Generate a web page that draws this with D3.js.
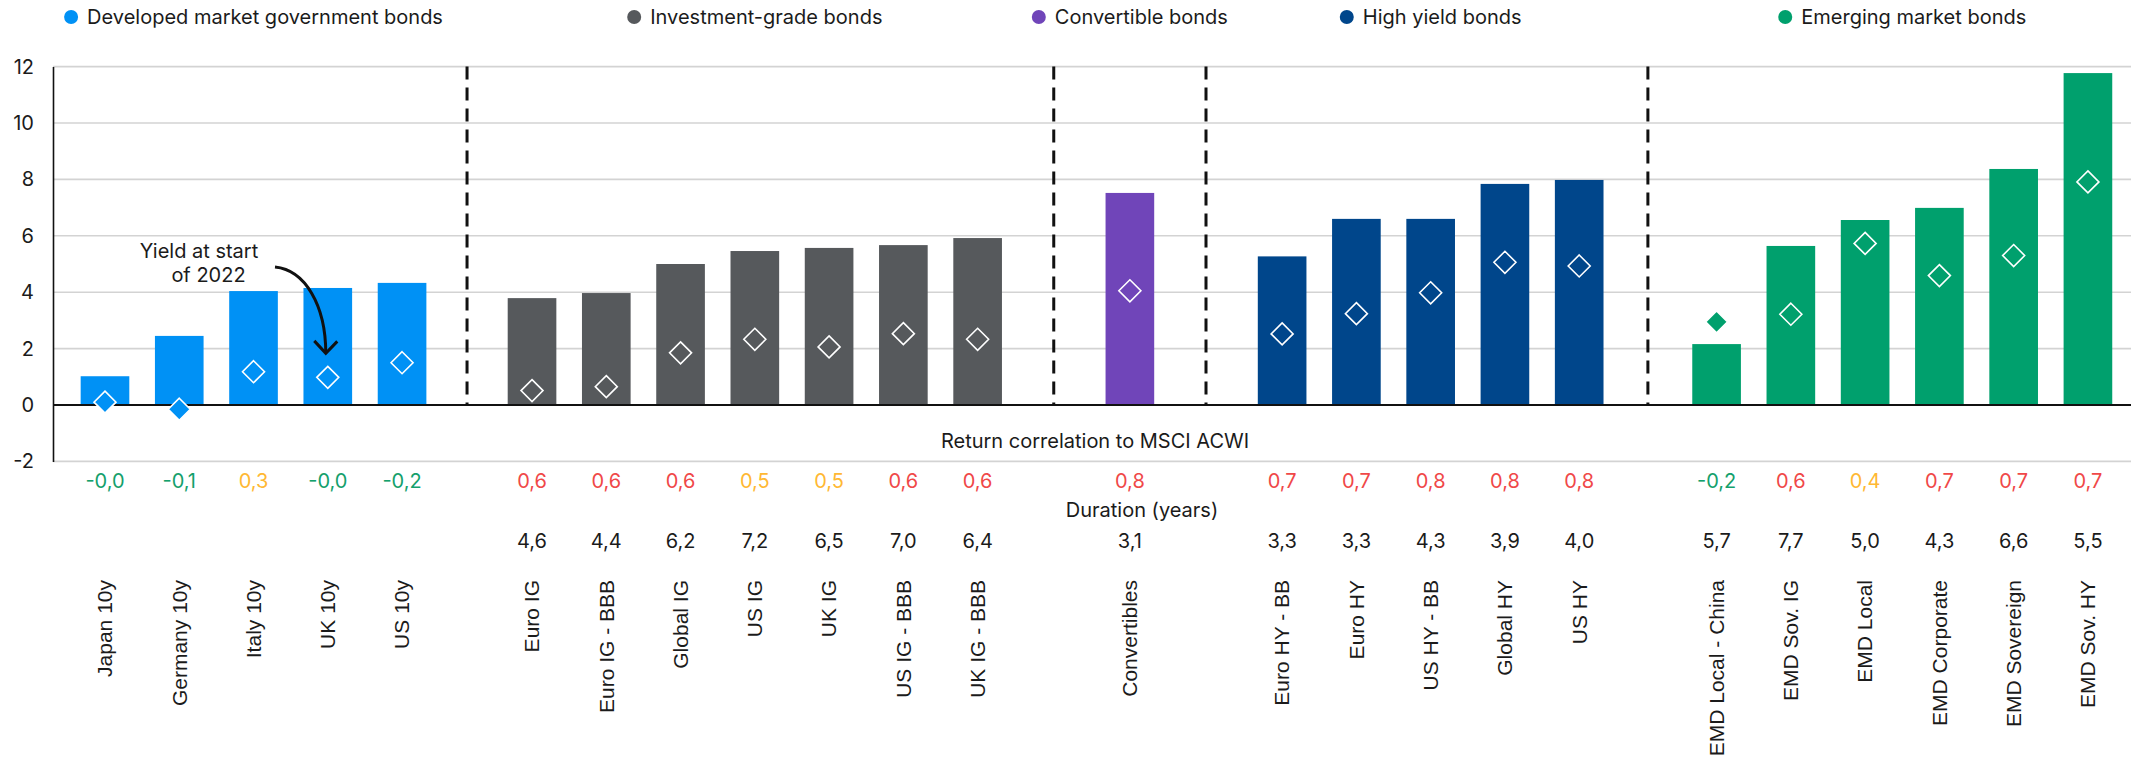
<!DOCTYPE html>
<html>
<head>
<meta charset="utf-8">
<script src="https://cdn.jsdelivr.net/npm/d3@7"></script>
<style>
  html, body { margin: 0; padding: 0; background: #ffffff; }
  svg { display: block; }
</style>
</head>
<body>
<svg id="chart" width="2143" height="758"></svg>
<script>
// ---- Data: current yield vs. yield at start of 2022, by bond segment ----
const categories = [
  "Japan 10y", "Germany 10y", "Italy 10y", "UK 10y", "US 10y",
  "Euro IG", "Euro IG - BBB", "Global IG", "US IG", "UK IG", "US IG - BBB", "UK IG - BBB",
  "Convertibles",
  "Euro HY - BB", "Euro HY", "US HY - BB", "Global HY", "US HY",
  "EMD Local - China", "EMD Sov. IG", "EMD Local", "EMD Corporate", "EMD Sovereign", "EMD Sov. HY"
];
const categoryGroup = [0, 0, 0, 0, 0, 1, 1, 1, 1, 1, 1, 1, 2, 3, 3, 3, 3, 3, 4, 4, 4, 4, 4, 4];
const currentYield = [1.02, 2.45, 4.04, 4.15, 4.33, 3.79, 3.97, 5.00, 5.46, 5.57, 5.67, 5.92,
  7.52, 5.27, 6.60, 6.60, 7.84, 7.98, 2.16, 5.64, 6.56, 6.99, 8.37, 11.77];
const startYield = [0.10, -0.15, 1.18, 0.98, 1.50, 0.51, 0.65, 1.85, 2.33, 2.06, 2.53, 2.33,
  4.05, 2.52, 3.24, 3.98, 5.06, 4.93, 2.95, 3.22, 5.73, 4.59, 5.30, 7.91];
const correlation = [-0.02, -0.1, 0.3, -0.04, -0.2, 0.6, 0.6, 0.6, 0.5, 0.5, 0.6, 0.6,
  0.8, 0.7, 0.7, 0.8, 0.8, 0.8, -0.2, 0.6, 0.4, 0.7, 0.7, 0.7];
const duration = [null, null, null, null, null, 4.6, 4.4, 6.2, 7.2, 6.5, 7.0, 6.4,
  3.1, 3.3, 3.3, 4.3, 3.9, 4.0, 5.7, 7.7, 5.0, 4.3, 6.6, 5.5];
const groupNames = ["Developed market government bonds", "Investment-grade bonds",
  "Convertible bonds", "High yield bonds", "Emerging market bonds"];
const yTicks = [-2, 0, 2, 4, 6, 8, 10, 12];

// ---- Styling ----
const groupColors = ["#0091F5", "#56595C", "#7045B9", "#00468B", "#00A06D"];
const corrColor = d3.scaleThreshold().domain([0.25, 0.55])
  .range(["#14A06C", "#FFB833", "#F04848"]);
const groupSpacing = [1.75, 2.05, 2.05, 1.85];   // extra room between segments (in bar steps)
const textFont = "Inter, 'Noto Sans', sans-serif";
const labelFont = "'Liberation Sans', Arial, sans-serif";
const ink = "#1b1b1b";

const W = 2143, H = 758;
const plotLeft = 53, plotRight = 2131;

// slot position of each category along the x axis
const slots = [];
categories.forEach((c, i) => {
  if (i === 0) slots.push(0);
  else if (categoryGroup[i] !== categoryGroup[i - 1]) slots.push(slots[i - 1] + groupSpacing[categoryGroup[i] - 1]);
  else slots.push(slots[i - 1] + 1);
});
const lastSlot = slots[slots.length - 1];

const x = d3.scaleLinear().domain([-0.7, lastSlot + 0.58]).range([plotLeft, plotRight]);
const y = d3.scaleLinear().domain([-2, 12]).range([461.4, 66.6]);
const step = x(1) - x(0);
const barW = step * 0.655;

const fmt1 = v => (v < 0 ? "-" : "") + Math.abs(v).toFixed(1).replace(".", ",");
const fmtTick = v => (v < 0 ? "-" : "") + Math.abs(v);

const svg = d3.select("#chart");
svg.append("rect").attr("width", W).attr("height", H).attr("fill", "#fff");

// gridlines
svg.append("g").selectAll("line").data(yTicks.filter(t => t !== 0)).join("line")
  .attr("x1", plotLeft).attr("x2", plotRight)
  .attr("y1", d => y(d)).attr("y2", d => y(d))
  .attr("stroke", "#d3d3d3").attr("stroke-width", 1.6);

// y axis
const yAxis = d3.axisLeft(y).tickValues(yTicks).tickSize(0).tickSizeOuter(0)
  .tickPadding(19).tickFormat(fmtTick);
const ga = svg.append("g").attr("transform", `translate(${plotLeft},0)`).call(yAxis);
ga.select(".domain").attr("stroke", "#111").attr("stroke-width", 1.6);
ga.selectAll("text").attr("font-family", textFont).attr("font-size", 20).attr("fill", ink);

// bars
svg.append("g").selectAll("rect").data(categories).join("rect")
  .attr("x", (d, i) => x(slots[i]) - barW / 2)
  .attr("width", barW)
  .attr("y", (d, i) => Math.min(y(currentYield[i]), y(0)))
  .attr("height", (d, i) => Math.abs(y(0) - y(currentYield[i])))
  .attr("fill", (d, i) => groupColors[categoryGroup[i]]);

// zero line
svg.append("line")
  .attr("x1", plotLeft).attr("x2", plotRight).attr("y1", y(0)).attr("y2", y(0))
  .attr("stroke", "#111").attr("stroke-width", 2);

// dashed separators between segments
const seps = [];
for (let i = 1; i < categories.length; i++) {
  if (categoryGroup[i] !== categoryGroup[i - 1]) seps.push((slots[i] + slots[i - 1]) / 2);
}
svg.append("g").selectAll("line").data(seps).join("line")
  .attr("x1", d => x(d)).attr("x2", d => x(d))
  .attr("y1", y(12)).attr("y2", y(0))
  .attr("stroke", "#111").attr("stroke-width", 3).attr("stroke-dasharray", "13,8");

// diamonds: yield at start of 2022
const diamond = "M0,-11L11,0L0,11L-11,0Z";
svg.append("g").selectAll("path").data(categories).join("path")
  .attr("d", diamond)
  .attr("transform", (d, i) => `translate(${x(slots[i])},${y(startYield[i])})`)
  .attr("fill", (d, i) => groupColors[categoryGroup[i]])
  .attr("stroke", "#fff").attr("stroke-width", 1.6);

// legend, each entry centred over its segment
groupNames.forEach((name, g) => {
  const idx = categories.map((c, i) => i).filter(i => categoryGroup[i] === g);
  const cx = (x(slots[idx[0]]) + x(slots[idx[idx.length - 1]])) / 2;
  const item = svg.append("g");
  item.append("circle").attr("cx", 0).attr("cy", 0).attr("r", 7).attr("fill", groupColors[g]);
  const t = item.append("text").attr("x", 16).attr("y", 7)
    .attr("font-family", textFont).attr("font-size", 20).attr("fill", ink).text(name);
  const tw = t.node().getComputedTextLength();
  const off = (-7 + 16 + tw) / 2;
  item.attr("transform", `translate(${cx - off},17)`);
});

// correlation row
svg.append("text").attr("x", 1095).attr("y", 448).attr("text-anchor", "middle")
  .attr("font-family", textFont).attr("font-size", 20).attr("fill", ink)
  .text("Return correlation to MSCI ACWI");
svg.append("g").selectAll("text").data(categories).join("text")
  .attr("x", (d, i) => x(slots[i])).attr("y", 488).attr("text-anchor", "middle")
  .attr("font-family", textFont).attr("font-size", 20)
  .attr("fill", (d, i) => corrColor(correlation[i]))
  .text((d, i) => fmt1(correlation[i]));

// duration row
svg.append("text").attr("x", 1142).attr("y", 517).attr("text-anchor", "middle")
  .attr("font-family", textFont).attr("font-size", 20).attr("fill", ink)
  .text("Duration (years)");
svg.append("g").selectAll("text").data(categories.filter((c, i) => duration[i] !== null)).join("text")
  .attr("x", d => x(slots[categories.indexOf(d)])).attr("y", 548).attr("text-anchor", "middle")
  .attr("font-family", textFont).attr("font-size", 20).attr("fill", ink)
  .text(d => fmt1(duration[categories.indexOf(d)]));

// rotated category labels
svg.append("g").selectAll("text").data(categories).join("text")
  .attr("transform", (d, i) => `translate(${x(slots[i])},580) rotate(-90)`)
  .attr("text-anchor", "end").attr("dy", "0.35em")
  .attr("font-family", labelFont).attr("font-size", 21).attr("fill", ink)
  .text(d => d);

// annotation with curved arrow pointing at the UK 10y marker
const ann = svg.append("g");
ann.append("text").attr("x", 199).attr("y", 258).attr("text-anchor", "middle")
  .attr("font-family", textFont).attr("font-size", 20).attr("fill", ink).text("Yield at start");
ann.append("text").attr("x", 208.5).attr("y", 282).attr("text-anchor", "middle")
  .attr("font-family", textFont).attr("font-size", 20).attr("fill", ink).text("of 2022");
const tx = x(slots[3]) - 2, ty = y(startYield[3]) - 24;
const sx = 275, sy = 267;
ann.append("path")
  .attr("d", `M${sx},${sy}C${sx + 30},${sy + 3} ${tx},${sy + 38} ${tx},${ty}`)
  .attr("fill", "none").attr("stroke", "#111").attr("stroke-width", 3);
ann.append("path")
  .attr("d", `M${tx - 11.5},${ty - 12.5}L${tx},${ty}L${tx + 11.5},${ty - 12}`)
  .attr("fill", "none").attr("stroke", "#111").attr("stroke-width", 3);
</script>
</body>
</html>
